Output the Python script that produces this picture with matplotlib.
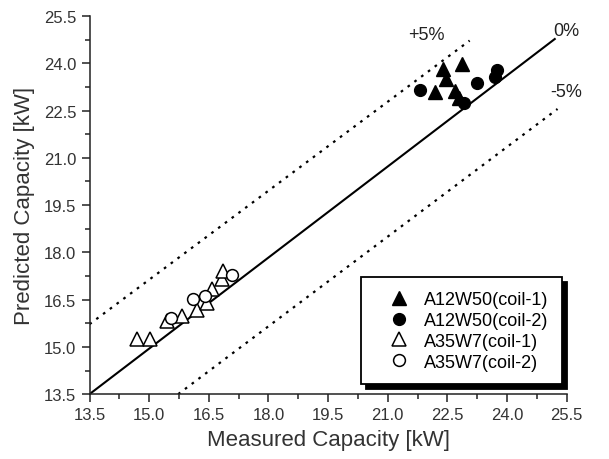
import matplotlib
matplotlib.use("Agg")
import matplotlib.pyplot as plt
from matplotlib.ticker import MultipleLocator, FormatStrFormatter

plt.rcParams['font.family'] = ['Liberation Sans', 'DejaVu Sans']

# A12W50 (coil-1) filled triangles
a12_c1_x = [22.38, 22.88, 22.46, 22.18, 22.68, 22.78]
a12_c1_y = [23.82, 23.98, 23.50, 23.08, 23.12, 22.90]
# A12W50 (coil-2) filled circles
a12_c2_x = [21.80, 23.24, 22.93, 23.76, 23.71]
a12_c2_y = [23.15, 23.37, 22.74, 23.79, 23.56]
# A35W7 (coil-1) open triangles
a35_c1_x = [14.69, 15.02, 15.45, 15.82, 16.20, 16.45, 16.58, 16.83, 16.85]
a35_c1_y = [15.25, 15.25, 15.82, 15.98, 16.17, 16.39, 16.83, 17.15, 17.40]
# A35W7 (coil-2) open circles
a35_c2_x = [15.55, 16.10, 16.40, 17.08]
a35_c2_y = [15.91, 16.52, 16.61, 17.28]

# reference lines (end points)
line0_x = [13.5, 25.2]
line0_y = [13.5, 24.77]
plus5_x = [13.5, 23.06]
plus5_y = [15.72, 24.72]
minus5_x = [15.73, 25.27]
minus5_y = [13.5, 22.55]

fig = plt.figure(figsize=(6.09, 4.60), dpi=100)
ax = fig.add_axes([0.147, 0.141, 0.7835, 0.822])

ax.plot(line0_x, line0_y, color='k', lw=1.5, zorder=2)
ax.plot(plus5_x, plus5_y, color='k', lw=1.6, linestyle=(0, (1.2, 2.6)), zorder=2)
ax.plot(minus5_x, minus5_y, color='k', lw=1.6, linestyle=(0, (1.2, 2.6)), zorder=2)

ax.plot(a12_c1_x, a12_c1_y, linestyle='none', marker='^', ms=10, color='k',
        label='A12W50(coil-1)', zorder=3)
ax.plot(a12_c2_x, a12_c2_y, linestyle='none', marker='o', ms=8.5, color='k',
        label='A12W50(coil-2)', zorder=3)
ax.plot(a35_c1_x, a35_c1_y, linestyle='none', marker='^', ms=10, mfc='white',
        mec='k', mew=1.1, label='A35W7(coil-1)', zorder=3)
ax.plot(a35_c2_x, a35_c2_y, linestyle='none', marker='o', ms=8.5, mfc='white',
        mec='k', mew=1.1, label='A35W7(coil-2)', zorder=3)

ax.text(25.5, 25.05, '0%', fontsize=13, ha='center', va='center', color='#222222')
ax.text(21.98, 24.9, '+5%', fontsize=13, ha='center', va='center', color='#222222')
ax.text(25.5, 23.12, '-5%', fontsize=13, ha='center', va='center', color='#222222')

ax.set_xlim(13.5, 25.5)
ax.set_ylim(13.5, 25.5)
ax.xaxis.set_major_locator(MultipleLocator(1.5))
ax.yaxis.set_major_locator(MultipleLocator(1.5))
ax.xaxis.set_minor_locator(MultipleLocator(0.75))
ax.yaxis.set_minor_locator(MultipleLocator(0.75))
ax.xaxis.set_major_formatter(FormatStrFormatter('%.1f'))
ax.yaxis.set_major_formatter(FormatStrFormatter('%.1f'))
ax.tick_params(which='major', direction='out', length=6, width=1.1, labelsize=12,
               colors='#222222', labelcolor='#333333')
ax.tick_params(which='minor', direction='out', length=3.5, width=1.1, colors='#222222')
for s in ['top', 'right']:
    ax.spines[s].set_visible(False)
for s in ['left', 'bottom']:
    ax.spines[s].set_linewidth(1.1)
    ax.spines[s].set_color('#222222')

ax.set_xlabel('Measured Capacity [kW]', fontsize=16, color='#333333', labelpad=5)
ax.set_ylabel('Predicted Capacity [kW]', fontsize=16, color='#333333', labelpad=6)

leg = ax.legend(loc='lower left', bbox_to_anchor=(0.57, 0.026), fontsize=13,
                frameon=True, fancybox=False,
                shadow={'color': 'k', 'alpha': 1.0, 'ox': 3.5, 'oy': -3.5},
                handlelength=2.6, handletextpad=0.1, labelspacing=0.22,
                borderpad=0.75, borderaxespad=0, edgecolor='k')
leg.get_frame().set_linewidth(1.3)
leg.set_zorder(5)

fig.savefig('out.png', dpi=100)
